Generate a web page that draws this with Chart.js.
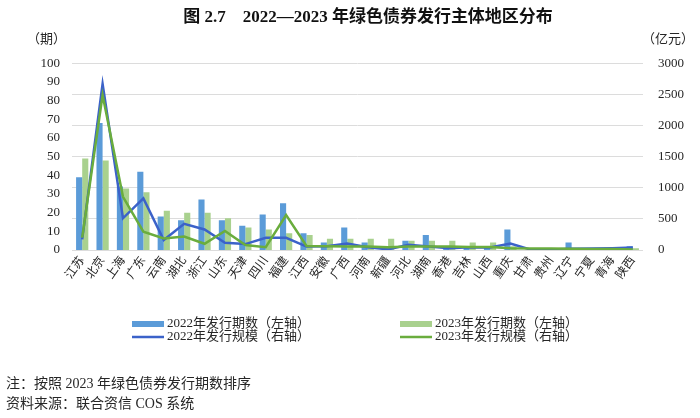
<!DOCTYPE html>
<html><head><meta charset="utf-8">
<script src="https://cdn.jsdelivr.net/npm/chart.js@4.4.0/dist/chart.umd.min.js"></script>
<style>html,body{margin:0;padding:0;background:#fff;} #wrap{position:relative;width:700px;height:418px;}</style>
</head><body><div id="wrap"><canvas id="c" width="700" height="418"></canvas></div>
<script>
const categories = ['江苏','北京','上海','广东','云南','湖北','浙江','山东','天津','四川','福建','江西','安徽','广西','河南','新疆','河北','湖南','香港','吉林','山西','重庆','甘肃','贵州','辽宁','宁夏','青海','陕西'];
const count2022 = [39,68,34,42,18,16,27,16,13,19,25,9,4,12,4,2,5,8,2,2,2,11,0,0,4,0,0,2];
const count2023 = [49,48,33,31,21,20,20,17,12,11,9,8,6,6,6,6,5,5,5,4,4,2,1,1,1,1,1,1];
const scale2022 = [170,2670,510,830,160,420,330,115,95,195,195,55,60,105,45,10,85,55,30,45,40,105,5,10,20,25,30,40];
const scale2023 = [200,2490,855,295,185,215,100,305,80,45,560,65,60,55,55,45,55,55,55,50,50,30,25,25,20,15,15,10];
const leftTicks = [0,10,20,30,40,50,60,70,80,90,100];
const rightTicks = [0,500,1000,1500,2000,2500,3000];
const seriesNames = ['2022年发行期数（左轴）','2023年发行期数（左轴）','2022年发行规模（右轴）','2023年发行规模（右轴）'];

const FONT = '"Liberation Serif", "Noto Sans CJK SC", serif';
const TXT = '#262626';

const extras = {
  id: 'extras',
  afterDraw(chart) {
    const ctx = chart.ctx;
    ctx.save();
    ctx.fillStyle = TXT;
    ctx.textBaseline = 'middle';
    ctx.font = '13px ' + FONT;
    ctx.textAlign = 'left';
    ctx.fillText('（期）', 27, 40);
    ctx.textAlign = 'right';
    ctx.fillText('（亿元）', 694, 40);
    // legend: [dataset index, column, row]
    const ds = chart.data.datasets;
    const cols = [132, 400];
    const rows = [324, 337];
    const items = [[2,0,0],[3,1,0],[1,0,1],[0,1,1]];
    ctx.textAlign = 'left';
    items.forEach(([i, c, r]) => {
      const x = cols[c], y = rows[r];
      if (ds[i].type === 'line') {
        ctx.strokeStyle = ds[i].borderColor;
        ctx.lineWidth = 2.5;
        ctx.beginPath(); ctx.moveTo(x, y); ctx.lineTo(x + 32, y); ctx.stroke();
      } else {
        ctx.fillStyle = ds[i].backgroundColor;
        ctx.fillRect(x, y - 3, 32, 6);
      }
      ctx.fillStyle = TXT;
      ctx.font = '13px ' + FONT;
      ctx.fillText(ds[i].label, x + 35, y);
    });
    // notes
    ctx.font = '14px ' + FONT;
    ctx.fillText('注：按照 2023 年绿色债券发行期数排序', 6, 384);
    ctx.fillText('资料来源：联合资信 COS 系统', 6, 404);
    ctx.restore();
  }
};

new Chart(document.getElementById('c'), {
  data: {
    labels: categories,
    datasets: [
      { type: 'line', label: seriesNames[3], data: scale2023, yAxisID: 'y1', borderColor: '#6AAD3D', borderWidth: 2.5, pointRadius: 0, tension: 0, order: 0 },
      { type: 'line', label: seriesNames[2], data: scale2022, yAxisID: 'y1', borderColor: '#3B62C9', borderWidth: 2.5, pointRadius: 0, tension: 0, order: 1 },
      { type: 'bar', label: seriesNames[0], data: count2022, yAxisID: 'y', backgroundColor: '#5B9BD8', order: 2 },
      { type: 'bar', label: seriesNames[1], data: count2023, yAxisID: 'y', backgroundColor: '#A9D18E', order: 3 }
    ]
  },
  options: {
    responsive: false,
    animation: false,
    devicePixelRatio: 1,
    layout: { padding: { left: 36, right: 0, top: 0, bottom: 128 } },
    datasets: { bar: { categoryPercentage: 0.6, barPercentage: 1.0 } },
    plugins: {
      legend: { display: false },
      tooltip: { enabled: false },
      title: {
        display: true,
        text: '图 2.7    2022—2023 年绿色债券发行主体地区分布',
        color: '#111',
        font: { family: FONT, size: 17, weight: 'bold' },
        padding: { top: 7, bottom: 36 }
      }
    },
    scales: {
      x: {
        offset: true,
        grid: { display: false, drawTicks: false },
        border: { display: false },
        ticks: { autoSkip: false, minRotation: 55, maxRotation: 55, padding: 4, color: TXT, font: { family: FONT, size: 12 } },
        afterFit(s) { s.height = 40; }
      },
      y: {
        position: 'left',
        min: leftTicks[0], max: leftTicks[leftTicks.length - 1],
        afterBuildTicks(s) { s.ticks = leftTicks.map(v => ({ value: v })); },
        grid: { display: false, drawTicks: false },
        border: { display: false },
        ticks: { padding: 12, color: TXT, font: { family: FONT, size: 13 }, callback: v => String(v) },
        afterFit(s) { s.width = 36; }
      },
      y1: {
        position: 'right',
        min: rightTicks[0], max: rightTicks[rightTicks.length - 1],
        afterBuildTicks(s) { s.ticks = rightTicks.map(v => ({ value: v })); },
        grid: { display: true, color: '#DCDCDC', lineWidth: 1, drawTicks: false },
        border: { display: false },
        ticks: { padding: 15, color: TXT, font: { family: FONT, size: 13 }, callback: v => String(v) },
        afterFit(s) { s.width = 57; }
      }
    }
  },
  plugins: [extras]
});
</script></body></html>
